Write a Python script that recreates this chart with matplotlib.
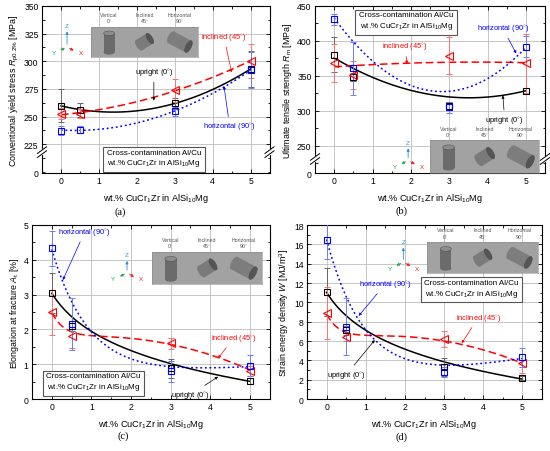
import numpy as np
import matplotlib
matplotlib.use('Agg')
import matplotlib.pyplot as plt
from matplotlib.ticker import MultipleLocator, FixedLocator, FixedFormatter
from matplotlib.patches import Polygon, Ellipse

plt.rcParams['font.family'] = ['Liberation Sans', 'DejaVu Sans']
plt.rcParams['mathtext.fontset'] = 'custom'
plt.rcParams['mathtext.rm'] = 'Liberation Sans'
plt.rcParams['mathtext.it'] = 'Liberation Sans:italic'
plt.rcParams['mathtext.bf'] = 'Liberation Sans:bold'

# ---------------- data ----------------
x_wt = [0, 0.5, 3, 5]

# (a) conventional yield stress Rp0.2 [MPa]
rp_upright = [260, 256, 262, 293]
rp_upright_err = [15, 6, 5, 16]
rp_inclined = [252.5, 252.5, 273.6, 300.3]
rp_inclined_err = [5, 4, 10, 15]
rp_horizontal = [237.3, 238.2, 254.8, 292]
rp_horizontal_err = [4, 3, 4, 16]

# (b) ultimate tensile strength Rm [MPa]
rm_upright = [380, 348, 307, 328]
rm_upright_err = [25, 6, 6, 4]
rm_inclined = [368.6, 351, 379, 368]
rm_inclined_err = [27, 20, 26, 42]
rm_horizontal = [431, 361, 305, 392]
rm_horizontal_err = [8, 38, 8, 15]
# fitted trend lines at the same x positions
rm_upright_fit = [380, 355, 322, 328]
rm_inclined_fit = [368, 358, 372, 368]
rm_horizontal_fit = [431, 401, 327, 391]

# (c) elongation at fracture At [%]
at_upright = [3.04, 2.1, 0.88, 0.52]
at_upright_err = [0.57, 0.15, 0.28, 0.08]
at_inclined = [2.49, 1.82, 1.6, 0.81]
at_inclined_err = [0.65, 0.35, 0.15, 0.15]
at_horizontal = [4.33, 2.15, 0.8, 0.96]
at_horizontal_err = [0.5, 0.75, 0.3, 0.3]
at_upright_fit = [3.04, 2.36, 1.03, 0.5]
at_inclined_fit = [2.49, 1.93, 1.57, 0.84]
at_horizontal_fit = [4.3, 2.8, 0.93, 0.93]

# (d) strain energy density W [MJ/m3]
w_upright = [11.1, 7.1, 3.3, 2.2]
w_upright_err = [2.5, 0.5, 0.9, 0.2]
w_inclined = [8.9, 6.4, 6.2, 3.7]
w_inclined_err = [2.7, 0.4, 0.8, 1.0]
w_horizontal = [16.5, 7.5, 2.8, 4.3]
w_horizontal_err = [2.0, 2.9, 0.5, 1.0]
w_upright_fit = [11.0, 8.7, 3.7, 2.15]
w_inclined_fit = [8.8, 6.9, 6.0, 3.7]
w_horizontal_fit = [16.5, 10.6, 3.5, 4.2]

xlabel = 'wt.% CuCr$_1$Zr in AlSi$_{10}$Mg'
box_text = 'Cross-contamination Al/Cu\nwt.% CuCr$_1$Zr in AlSi$_{10}$Mg'
lab_up, lab_in, lab_ho = 'upright (0$^{\\circ}$)', 'inclined (45$^{\\circ}$)', 'horizontal (90$^{\\circ}$)'

W, H = 550, 452
fig = plt.figure(figsize=(W / 100, H / 100), dpi=100)


def ax_at(l, r, t, b):
    return fig.add_axes([l / W, 1 - b / H, (r - l) / W, (b - t) / H])


ax_a = ax_at(42, 269.5, 7, 174)
ax_b = ax_at(315, 545, 7, 174)
ax_c = ax_at(32, 269.5, 226, 400)
ax_d = ax_at(307, 542, 226, 400)


def fit_curve(x, y, model):
    x = np.asarray(x, float)
    y = np.asarray(y, float)
    xs = np.linspace(0, 5, 300)
    if model == 'poly2':
        c = np.polyfit(x, y, 2)
        return xs, np.polyval(c, xs)
    if model == 'expquad':
        def basis(t):
            return np.column_stack([np.ones_like(t), np.exp(-3 * t), t, t ** 2])
        coef = np.linalg.lstsq(basis(x), y, rcond=None)[0]
        return xs, basis(xs) @ coef

    if model == 'explin':
        def basis(t, p):
            return np.column_stack([np.ones_like(t), np.exp(-p * t), t])
        grid = np.linspace(0.3, 3.0, 300)
    else:  # logarithmic decay
        def basis(t, p):
            return np.column_stack([np.ones_like(t), np.log(t + p)])
        grid = np.linspace(0.05, 3.0, 300)
    best = None
    for p in grid:
        A = basis(x, p)
        coef = np.linalg.lstsq(A, y, rcond=None)[0]
        r = np.sum((A @ coef - y) ** 2)
        if best is None or r < best[0]:
            best = (r, p, coef)
    _, p, coef = best
    return xs, basis(xs, p) @ coef


def series(ax, y, err, kind, model, fit=None):
    if kind == 'up':
        col, ecol, ls, mk, ms = 'black', '#666666', '-', 's', 5
    elif kind == 'in':
        col, ecol, ls, mk, ms = '#ff0000', '#ff7070', (0, (5, 2.5)), '<', 6
    else:
        col, ecol, ls, mk, ms = '#0000ff', '#6a7bff', (0, (1.2, 1.8)), 's', 5
    xs, ys = fit_curve(x_wt, y if fit is None else fit, model)
    ax.plot(xs, ys, color=col, ls=ls, lw=1.1, zorder=3)
    ax.errorbar(x_wt, y, yerr=err, fmt='none', ecolor=ecol, elinewidth=0.7,
                capsize=2, capthick=0.7, zorder=4)
    ax.plot(x_wt, y, ls='none', marker=mk, ms=ms, mfc='none', mec=col, mew=0.8, zorder=5)


def style(ax, ylim, major, minor, ylabel, yticks=None, ylabels=None):
    ax.set_xlim(-0.5, 5.5)
    ax.set_ylim(*ylim)
    ax.xaxis.set_major_locator(MultipleLocator(1))
    ax.xaxis.set_minor_locator(MultipleLocator(0.5))
    if yticks is not None:
        ax.yaxis.set_major_locator(FixedLocator(yticks))
        ax.yaxis.set_major_formatter(FixedFormatter(ylabels))
    else:
        ax.yaxis.set_major_locator(MultipleLocator(major))
    ax.yaxis.set_minor_locator(MultipleLocator(minor))
    ax.tick_params(which='both', direction='in', top=True, right=True, labelsize=6.2,
                   width=0.6, pad=2.5)
    ax.tick_params(which='major', length=3)
    ax.tick_params(which='minor', length=1.8)
    ax.grid(True, which='major', color='#bdbdbd', lw=0.6, zorder=0)
    ax.set_axisbelow(True)
    for s in ax.spines.values():
        s.set_linewidth(0.8)
    ax.set_xlabel(xlabel, fontsize=6.6, labelpad=4)
    ax.set_ylabel(ylabel, fontsize=6.4, labelpad=2)


def break_marks(ax, yf):
    for xf in (0, 1):
        ax.plot([xf, xf], [yf - 0.012, yf + 0.012], transform=ax.transAxes, color='white',
                lw=1.6, clip_on=False, zorder=10)
        for d in (-0.012, 0.012):
            ax.plot([xf - 0.02, xf + 0.02], [yf + d - 0.02, yf + d + 0.02], transform=ax.transAxes,
                    color='black', lw=0.7, clip_on=False, zorder=11)


def cylinder(ia, cx, cy, L, r, ang, body, cap):
    a = np.deg2rad(ang)
    u = np.array([np.cos(a), np.sin(a)])
    n = np.array([-np.sin(a), np.cos(a)])
    c = np.array([cx, cy])
    p = [c - u * L / 2 + n * r, c + u * L / 2 + n * r, c + u * L / 2 - n * r, c - u * L / 2 - n * r]
    ia.add_patch(Ellipse(c - u * L / 2, 2 * r * 0.42, 2 * r, angle=ang, fc=body, ec='none'))
    ia.add_patch(Polygon(p, closed=True, fc=body, ec='none'))
    ia.add_patch(Ellipse(c + u * L / 2, 2 * r * 0.42, 2 * r, angle=ang, fc=cap, ec='#444444', lw=0.3))


def inset(ax, rect, ax_px):
    ia = ax.inset_axes(rect)
    wpx, hpx = rect[2] * ax_px[0], rect[3] * ax_px[1]
    ia.set_xlim(0, wpx)
    ia.set_ylim(0, hpx)
    ia.set_facecolor('#a2a2a2')
    ia.set_xticks([])
    ia.set_yticks([])
    for s in ia.spines.values():
        s.set_color('#8a8a8a')
        s.set_linewidth(0.4)
    k = hpx / 30.0
    cylinder(ia, wpx * 0.17, hpx * 0.47, 19 * k, 5.5 * k, 90, '#6b6b6b', '#8c8c8c')
    cylinder(ia, wpx * 0.5, hpx * 0.5, 13 * k, 6 * k, 32, '#7a7a7a', '#555555')
    cylinder(ia, wpx * 0.83, hpx * 0.5, 20 * k, 6.5 * k, -28, '#7d7d7d', '#555555')
    names = ['Vertical\n0$^{\\circ}$', 'Inclined\n45$^{\\circ}$', 'Horizontal\n90$^{\\circ}$']
    for i, t in enumerate(names):
        ax.text(rect[0] + rect[2] * (0.17 + 0.33 * i), rect[1] + rect[3] + 0.01, t,
                transform=ax.transAxes, ha='center', va='bottom', fontsize=3.8,
                color='#555555', linespacing=1.0)


def triad(ax, fx, fy, dz):
    kw = dict(xycoords='axes fraction', textcoords='axes fraction')
    ax.annotate('', xy=(fx, fy + dz), xytext=(fx, fy),
                arrowprops=dict(arrowstyle='-|>', color='#2f8fd8', lw=0.6, mutation_scale=4), **kw)
    ax.annotate('', xy=(fx + 0.04, fy - 0.03), xytext=(fx, fy),
                arrowprops=dict(arrowstyle='-|>', color='#ee2222', lw=0.6, mutation_scale=4), **kw)
    ax.annotate('', xy=(fx - 0.04, fy - 0.028), xytext=(fx, fy),
                arrowprops=dict(arrowstyle='-|>', color='#22aa44', lw=0.6, mutation_scale=4), **kw)
    ax.text(fx, fy + dz + 0.005, 'Z', transform=ax.transAxes, color='#2f8fd8', fontsize=4.5,
            ha='center', va='bottom')
    ax.text(fx + 0.05, fy - 0.035, 'X', transform=ax.transAxes, color='#ee2222', fontsize=4.5,
            ha='left', va='center')
    ax.text(fx - 0.05, fy - 0.035, 'Y', transform=ax.transAxes, color='#22aa44', fontsize=4.5,
            ha='right', va='center')


def label(ax, text, xy, xyt, col):
    ax.annotate(text, xy=xy, xytext=xyt, color=col, fontsize=5.4, ha='center', va='center',
                arrowprops=dict(arrowstyle='-|>', color=col, lw=0.5, mutation_scale=4,
                                shrinkA=1, shrinkB=0), zorder=8)


def tbox(ax, x, y):
    ax.text(x, y, box_text, ha='center', va='center', fontsize=5.8, linespacing=1.25,
            bbox=dict(boxstyle='square,pad=0.45', fc='white', ec='#555555', lw=0.8), zorder=9)


def axpx(l, r, t, b):
    return (r - l, b - t)


# ---------------- (a) ----------------
series(ax_a, rp_upright, rp_upright_err, 'up', 'poly2')
series(ax_a, rp_inclined, rp_inclined_err, 'in', 'poly2')
series(ax_a, rp_horizontal, rp_horizontal_err, 'ho', 'poly2')
style(ax_a, (199, 350), 25, 12.5, 'Conventional yield stress $R_{\\mathrm{p0.2\\%}}$ [MPa]',
      yticks=[199, 225, 250, 275, 300, 325, 350],
      ylabels=['0', '225', '250', '275', '300', '325', '350'])
break_marks(ax_a, 0.125)
label(ax_a, lab_up, (2.45, 264.5), (2.45, 290), 'black')
label(ax_a, lab_in, (4.5, 290), (4.3, 322), '#ff0000')
label(ax_a, lab_ho, (4.3, 277.5), (4.45, 241), '#0000ff')
tbox(ax_a, 2.45, 212)
inset(ax_a, [0.215, 0.695, 0.47, 0.18], axpx(42, 269.5, 7, 174))
triad(ax_a, 0.11, 0.755, 0.11)

# ---------------- (b) ----------------
series(ax_b, rm_upright, rm_upright_err, 'up', 'poly2', rm_upright_fit)
series(ax_b, rm_inclined, rm_inclined_err, 'in', 'poly2', rm_inclined_fit)
series(ax_b, rm_horizontal, rm_horizontal_err, 'ho', 'poly2', rm_horizontal_fit)
style(ax_b, (211, 450), 50, 25, 'Ultimate tensile strength $R_{\\mathrm{m}}$ [MPa]',
      yticks=[211, 250, 300, 350, 400, 450],
      ylabels=['0', '250', '300', '350', '400', '450'])
break_marks(ax_b, 0.084)
label(ax_b, lab_in, (1.9, 367), (1.85, 392), '#ff0000')
label(ax_b, lab_ho, (4.75, 382), (4.4, 418), '#0000ff')
label(ax_b, lab_up, (4.4, 322), (4.45, 287), 'black')
tbox(ax_b, 1.88, 428)
inset(ax_b, [0.5, 0.0, 0.475, 0.195], axpx(315, 545, 7, 174))
triad(ax_b, 0.405, 0.075, 0.09)

# ---------------- (c) ----------------
series(ax_c, at_upright, at_upright_err, 'up', 'log', at_upright_fit)
series(ax_c, at_inclined, at_inclined_err, 'in', 'expquad', at_inclined_fit)
series(ax_c, at_horizontal, at_horizontal_err, 'ho', 'explin', at_horizontal_fit)
style(ax_c, (0, 5), 1, 0.5, 'Elongation at fracture $A_{\\mathrm{t}}$ [%]')
label(ax_c, lab_ho, (0.28, 3.42), (0.83, 4.8), '#0000ff')
label(ax_c, lab_in, (4.2, 1.17), (4.6, 1.75), '#ff0000')
label(ax_c, lab_up, (4.2, 0.64), (3.5, 0.12), 'black')
tbox(ax_c, 1.05, 0.48)
inset(ax_c, [0.505, 0.66, 0.465, 0.185], axpx(32, 269.5, 226, 400))
triad(ax_c, 0.4, 0.725, 0.085)

# ---------------- (d) ----------------
series(ax_d, w_upright, w_upright_err, 'up', 'log', w_upright_fit)
series(ax_d, w_inclined, w_inclined_err, 'in', 'expquad', w_inclined_fit)
series(ax_d, w_horizontal, w_horizontal_err, 'ho', 'explin', w_horizontal_fit)
style(ax_d, (0, 18), 2, 1, 'Strain energy density $W$ [MJ/m$^3$]')
label(ax_d, lab_ho, (0.82, 8.6), (1.5, 11.9), '#0000ff')
label(ax_d, lab_in, (3.45, 5.76), (3.87, 8.4), '#ff0000')
label(ax_d, lab_up, (1.23, 6.1), (0.5, 2.5), 'black')
tbox(ax_d, 3.7, 11.4)
inset(ax_d, [0.51, 0.724, 0.474, 0.176], axpx(307, 542, 226, 400))
triad(ax_d, 0.41, 0.787, 0.1)

# ---------------- captions ----------------
for t, (px, py) in zip(['(a)', '(b)', '(c)', '(d)'],
                       [(120, 212), (401, 211), (123, 436), (402, 437)]):
    fig.text(px / W, 1 - py / H, t, ha='center', va='center', fontsize=7.5,
             family=['Liberation Serif', 'DejaVu Serif'])

fig.savefig('out.png', dpi=100)
